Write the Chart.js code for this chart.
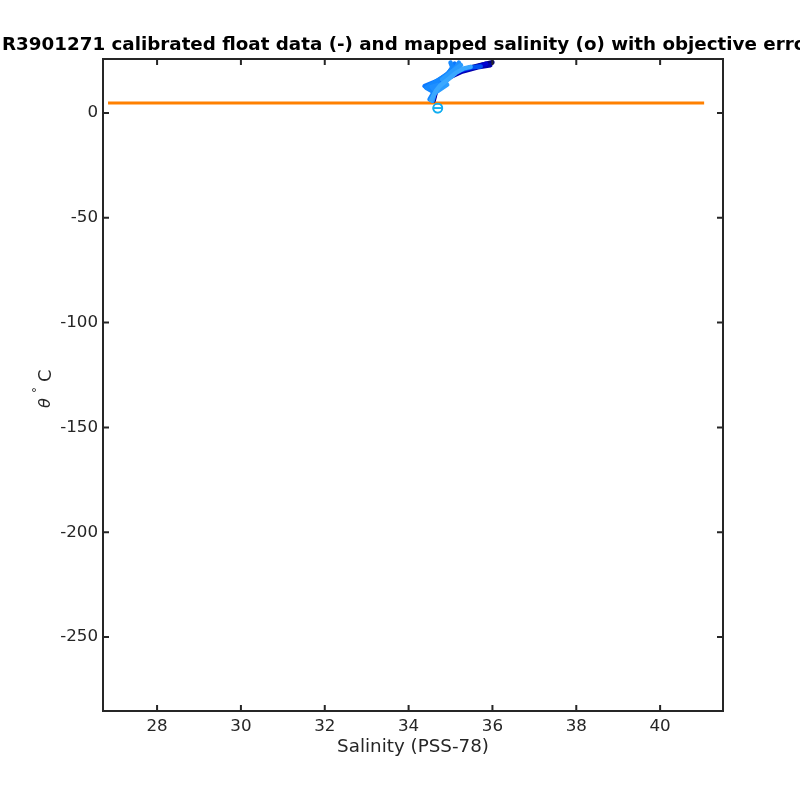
<!DOCTYPE html>
<html>
<head>
<meta charset="utf-8">
<script src="https://cdn.jsdelivr.net/npm/chart.js@4.4.1/dist/chart.umd.min.js"></script>
<style>
  html, body { margin: 0; padding: 0; background: #fff; }
  #wrap { width: 800px; height: 800px; }
</style>
</head>
<body>
<div id="wrap"><canvas id="chart" width="800" height="800"></canvas></div>
<script>
// axis ticks
const xTicks = [28, 30, 32, 34, 36, 38, 40];
const yTicks = [-250, -200, -150, -100, -50, 0];

// float profiles: salinity and theta (first = drawn underneath)
const profColors = ["#000080", "#0000a8", "#0000d0", "#0050f0", "#0a78ff", "#1488ff", "#1e8fff", "#2a9cff", "#3aa8ff"];
const profSal = [
  [34.60, 34.65, 34.70, 34.95, 35.30, 35.70, 36.00],
  [34.58, 34.64, 34.62, 34.92, 35.28, 35.65, 35.95],
  [34.58, 34.64, 34.60, 34.90, 35.25, 35.60, 35.85],
  [34.55, 34.63, 34.50, 34.85, 35.15, 35.50, 35.72],
  [34.52, 34.62, 34.38, 34.70, 34.95, 35.10],
  [34.50, 34.60, 34.42, 34.65, 34.90, 35.05, 35.00],
  [34.55, 34.64, 34.55, 34.88, 35.00, 35.15, 35.20],
  [34.57, 34.62, 34.92, 34.80, 35.05, 35.25],
  [34.54, 34.66, 34.75, 34.97, 35.12, 35.32, 35.48]
];
const profTheta = [
  [6.0, 10.0, 13.0, 17.0, 20.8, 22.8, 24.2],
  [6.0, 10.0, 13.0, 16.5, 19.8, 21.8, 22.8],
  [6.0, 10.0, 13.0, 17.0, 20.0, 22.0, 23.5],
  [6.2, 10.5, 13.0, 16.5, 20.0, 21.8, 22.2],
  [6.5, 10.0, 12.8, 15.5, 19.0, 23.5],
  [6.5, 10.0, 12.0, 15.0, 18.0, 21.5, 24.0],
  [6.0, 10.5, 12.5, 14.5, 18.5, 22.5, 24.0],
  [5.8, 9.5, 13.5, 16.0, 20.0, 22.8],
  [6.2, 10.8, 13.0, 16.5, 19.0, 21.3, 22.0]
];

// mapped salinity (o) with objective error
const mapSal = [34.69, 34.70];
const mapTheta = [2.3, 2.4];

// objective error line
const errSal = [26.83, 41.05];
const errTheta = [4.8, 4.8];

const datasets = [];
datasets.push({
  data: errSal.map((s, i) => ({ x: s, y: errTheta[i] })),
  showLine: true, borderColor: "#ff8000", borderWidth: 3, pointRadius: 0, order: 100
});
profSal.forEach((arr, k) => {
  datasets.push({
    data: arr.map((s, i) => ({ x: s, y: profTheta[k][i] })),
    showLine: true, borderColor: profColors[k], borderWidth: k < 3 ? 4.5 : 4.5,
    pointRadius: 0, borderCapStyle: "round", borderJoinStyle: "round",
    order: 50 - k
  });
});
datasets.push({
  data: mapSal.map((s, i) => ({ x: s, y: mapTheta[i] })),
  showLine: false, pointRadius: 4.5, pointBorderWidth: 1.5,
  pointBorderColor: "#12aef0", pointBackgroundColor: "rgba(0,0,0,0)", order: 1
});
datasets.push({
  data: mapSal.map((s, i) => ({ x: s, y: mapTheta[i] })),
  showLine: false, pointStyle: "line", pointRadius: 4, pointBorderWidth: 1.5,
  pointBorderColor: "#12aef0", order: 0
});

const ink = "#262626";

const frame = {
  id: "frame",
  afterDraw(chart) {
    const ctx = chart.ctx;
    const a = chart.chartArea;
    const xs = chart.scales.x, ys = chart.scales.y;
    ctx.save();
    ctx.strokeStyle = ink;
    ctx.lineWidth = 2;
    ctx.strokeRect(a.left, a.top, a.right - a.left, a.bottom - a.top);
    const len = 6;
    ctx.beginPath();
    xTicks.forEach(v => {
      const p = xs.getPixelForValue(v);
      ctx.moveTo(p, a.bottom); ctx.lineTo(p, a.bottom - len);
      ctx.moveTo(p, a.top); ctx.lineTo(p, a.top + len);
    });
    yTicks.forEach(v => {
      const p = ys.getPixelForValue(v);
      ctx.moveTo(a.left, p); ctx.lineTo(a.left + len, p);
      ctx.moveTo(a.right, p); ctx.lineTo(a.right - len, p);
    });
    ctx.stroke();

    // title
    ctx.fillStyle = "#000";
    ctx.font = "bold 18.3px 'DejaVu Sans'";
    ctx.textAlign = "left";
    ctx.textBaseline = "middle";
    ctx.fillText("R3901271 calibrated float data (-) and mapped salinity (o) with objective error", 2, 45);

    // x label
    ctx.fillStyle = ink;
    ctx.font = "18.3px 'DejaVu Sans'";
    ctx.textAlign = "center";
    ctx.fillText("Salinity (PSS-78)", (a.left + a.right) / 2, 747);

    // y label: theta ^circ C
    ctx.translate(46, 386);
    ctx.rotate(-Math.PI / 2);
    ctx.textAlign = "left";
    ctx.font = "italic 16px 'DejaVu Sans'";
    ctx.fillText("\u03b8", -22, 0);
    ctx.font = "12px 'DejaVu Sans'";
    ctx.fillText("\u00b0", -7, -8);
    ctx.font = "18px 'DejaVu Sans'";
    ctx.fillText("C", 4, 0);
    ctx.restore();
  }
};

new Chart(document.getElementById("chart"), {
  type: "scatter",
  data: { datasets },
  options: {
    responsive: false,
    animation: false,
    layout: { padding: { left: 0, right: 77, top: 59, bottom: 0 } },
    plugins: { legend: { display: false }, tooltip: { enabled: false } },
    scales: {
      x: {
        type: "linear", min: 26.71, max: 41.5,
        afterBuildTicks: s => { s.ticks = xTicks.map(v => ({ value: v })); },
        afterFit: s => { s.height = 89; },
        grid: { display: false, drawTicks: false },
        border: { display: false },
        ticks: { color: ink, font: { family: "DejaVu Sans", size: 16.7 }, padding: 6, maxRotation: 0 }
      },
      y: {
        type: "linear", min: -285.3, max: 25.76,
        afterBuildTicks: s => { s.ticks = yTicks.map(v => ({ value: v })); },
        afterFit: s => { s.width = 103; },
        grid: { display: false, drawTicks: false },
        border: { display: false },
        ticks: { color: ink, font: { family: "DejaVu Sans", size: 16.7 }, padding: 5 }
      }
    }
  },
  plugins: [frame]
});
</script>
</body>
</html>
